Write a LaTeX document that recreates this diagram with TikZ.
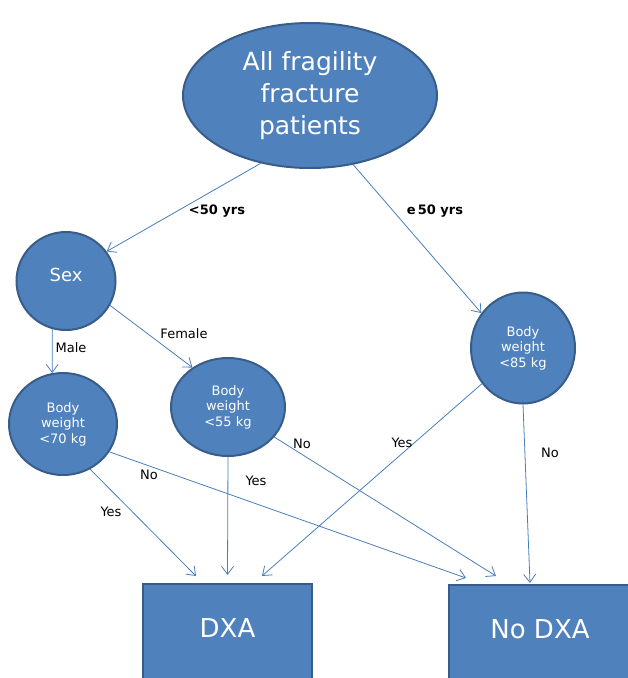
\documentclass[tikz,border=0pt]{standalone}
\usepackage{fontspec}
\setmainfont{DejaVu Sans}
\usetikzlibrary{shapes.geometric,arrows.meta}
\definecolor{nodeblue}{HTML}{4F81BD}
\definecolor{rimblue}{HTML}{385D8A}
\definecolor{lineblue}{HTML}{4A7EBB}
\tikzset{
  decision/.style={ellipse,draw=rimblue,line width=2pt,fill=nodeblue,text=white,align=center,inner sep=0pt},
  outcome/.style={rectangle,draw=rimblue,line width=2pt,fill=nodeblue,text=white,anchor=north,inner ysep=0pt,
    text height=53.5pt,text depth=80pt,font=\fontsize{26}{30}\selectfont},
  arr/.style={draw=lineblue,line width=0.8pt,-{Straight Barb[length=8pt,width=12pt]}},
  lbl/.style={font=\fontsize{13}{15}\selectfont},
  lblbold/.style={font=\fontsize{13}{15}\selectfont\bfseries}
}
\begin{document}
\begin{tikzpicture}[x=1pt,y=-1pt]
\useasboundingbox (0,0) rectangle (628,678);
\clip (0,0) rectangle (628,678);
%nodes
\node[decision,minimum width=254pt,minimum height=145pt,font=\fontsize{25}{32}\selectfont] (all) at (310,95.5) {All fragility\\fracture\\patients};
\node[decision,minimum width=99pt,minimum height=98pt,text depth=12pt,font=\fontsize{18}{22}\selectfont] (sex) at (66,281) {Sex};
\node[decision,minimum width=108pt,minimum height=102pt,font=\fontsize{13}{15.5}\selectfont] (bw70) at (63,424) {Body\\weight\\<70 kg};
\node[decision,minimum width=114pt,minimum height=98pt,font=\fontsize{13}{15.5}\selectfont] (bw55) at (228,407) {Body\\weight\\<55 kg};
\node[decision,minimum width=104pt,minimum height=111pt,font=\fontsize{13}{15.5}\selectfont] (bw85) at (523,348) {Body\\weight\\<85 kg};
\node[outcome,minimum width=169pt] (dxa) at (227.5,583) {DXA};
\node[outcome,minimum width=182pt] (nodxa) at (540,584) {No DXA};
%edges
\draw[arr] (all.234) -- (sex.36);
\draw[arr] (all.302) -- (bw85.140);
\draw[arr] (sex.254) -- (bw70.102);
\draw[arr] (sex.331) -- (bw55.132);
\draw[arr] (bw70.301) -- ([xshift=-31.5pt,yshift=7pt]dxa.north);
\draw[arr] (bw70.329) -- ([xshift=-74pt,yshift=6pt]nodxa.north);
\draw[arr] (bw55.270) -- ([yshift=8pt]dxa.north);
\draw[arr] (bw55.327) -- ([xshift=-44pt,yshift=8pt]nodxa.north);
\draw[arr] (bw85.221) -- ([xshift=34.5pt,yshift=7pt]dxa.north);
\draw[arr] (bw85.270) -- ([xshift=-10pt,yshift=1pt]nodxa.north);
%labels
\node[lblbold] (lyoung) at (217,211) {<50 yrs};
\node[lblbold] (lold) at (435,211) {e\,50 yrs};
\node[lbl] (lmale) at (71,348) {Male};
\node[lbl] (lfemale) at (184,334) {Female};
\node[lbl] (lyes70) at (111,512) {Yes};
\node[lbl] (lno70) at (149,475) {No};
\node[lbl] (lyes55) at (256,481) {Yes};
\node[lbl] (lno55) at (302,444) {No};
\node[lbl] (lyes85) at (402,443) {Yes};
\node[lbl] (lno85) at (550,453) {No};
\end{tikzpicture}
\end{document}
